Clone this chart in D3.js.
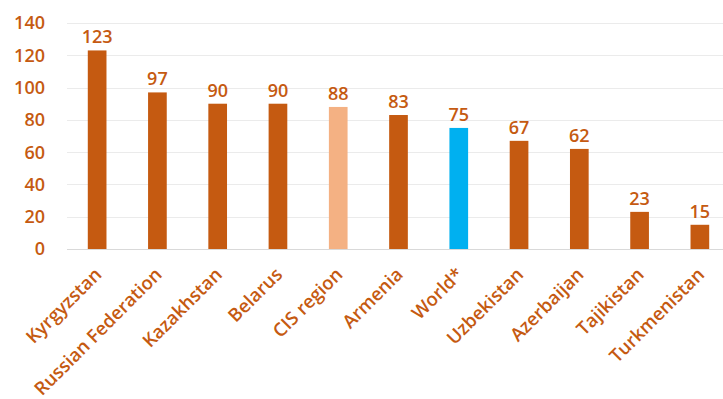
<!DOCTYPE html>
<html>
<head>
<meta charset="utf-8">
<script src="https://cdn.jsdelivr.net/npm/d3@7"></script>
<style>
  body { margin: 0; background: #fff; }
  text { font-family: "Open Sans", Lato, sans-serif; font-weight: 600; fill: #c55a11; }
</style>
</head>
<body>
<svg width="723" height="399"></svg>
<script>
// chart data
var countries = ["Kyrgyzstan", "Russian Federation", "Kazakhstan", "Belarus", "CIS region",
  "Armenia", "World*", "Uzbekistan", "Azerbaijan", "Tajikistan", "Turkmenistan"];
var values = [123, 97, 90, 90, 88, 83, 75, 67, 62, 23, 15];
var yTicks = [0, 20, 40, 60, 80, 100, 120, 140];

var svg = d3.select("svg");

var x = d3.scaleBand()
  .domain(countries)
  .range([67, 730])
  .paddingInner(0.69)
  .paddingOuter(0.345);

var y = d3.scaleLinear()
  .domain([0, 140])
  .range([249, 23]);

function barColor(name) {
  if (name === "CIS region") return "#f4b183";
  if (name === "World*") return "#00b0f0";
  return "#c55a11";
}

// gridlines
svg.append("g")
  .selectAll("line")
  .data(yTicks)
  .join("line")
  .attr("x1", 67)
  .attr("x2", 723)
  .attr("y1", function(d) { return Math.round(y(d)) + 0.5; })
  .attr("y2", function(d) { return Math.round(y(d)) + 0.5; })
  .attr("stroke", function(d) { return d === 0 ? "#d9d9d9" : "#ebebeb"; })
  .attr("stroke-width", 1);

// y axis labels
svg.append("g")
  .selectAll("text")
  .data(yTicks)
  .join("text")
  .attr("x", 45)
  .attr("y", function(d) { return y(d); })
  .attr("dy", "0.36em")
  .attr("text-anchor", "end")
  .style("font-size", "18px")
  .text(function(d) { return d; });

// bars
svg.append("g")
  .selectAll("rect")
  .data(countries)
  .join("rect")
  .attr("x", function(d) { return x(d); })
  .attr("width", x.bandwidth())
  .attr("y", function(d, i) { return y(values[i]); })
  .attr("height", function(d, i) { return y(0) - y(values[i]); })
  .attr("fill", barColor);

// value labels
svg.append("g")
  .selectAll("text")
  .data(countries)
  .join("text")
  .attr("x", function(d) { return x(d) + x.bandwidth() / 2; })
  .attr("y", function(d, i) { return y(values[i]) - 7; })
  .attr("text-anchor", "middle")
  .style("font-size", "18px")
  .text(function(d, i) { return values[i]; });

// rotated category labels
svg.append("g")
  .selectAll("text")
  .data(countries)
  .join("text")
  .attr("transform", function(d) {
    var cx = x(d) + x.bandwidth() / 2 + 1;
    return "translate(" + cx + "," + 271 + ") rotate(-45)";
  })
  .attr("text-anchor", "end")
  .attr("dy", "0.35em")
  .style("font-size", "18.5px")
  .text(function(d) { return d; });
</script>
</body>
</html>
